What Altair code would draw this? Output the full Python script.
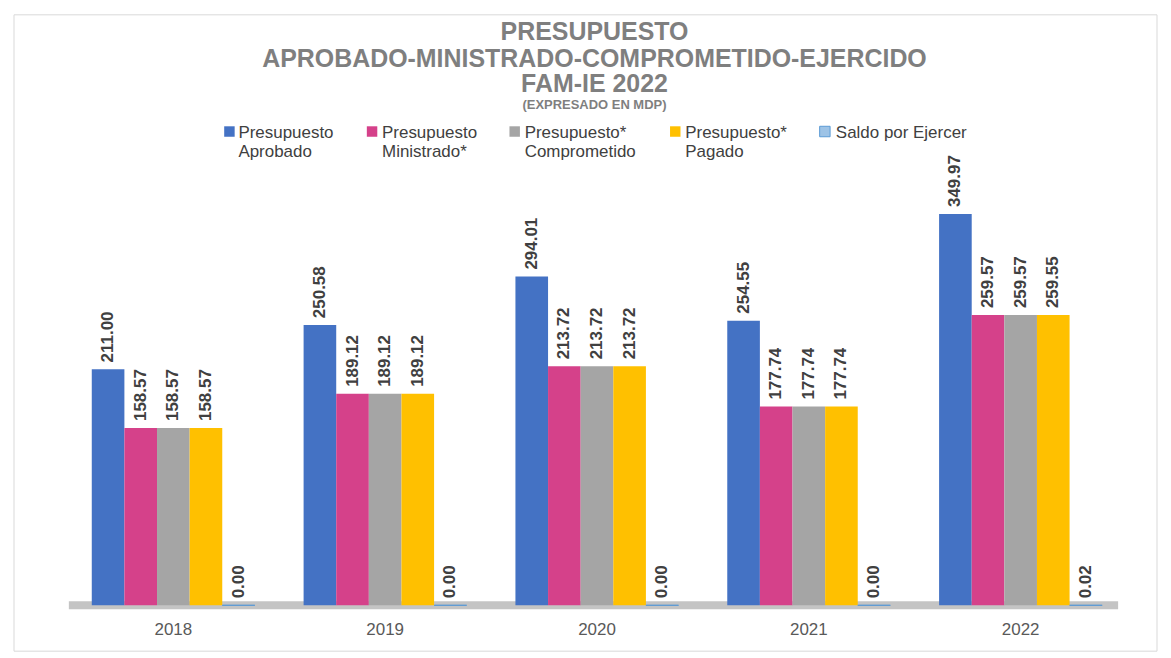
import altair as alt
import pandas as pd

years = ["2018", "2019", "2020", "2021", "2022"]
series = [
    "Presupuesto|Aprobado",
    "Presupuesto|Ministrado*",
    "Presupuesto*|Comprometido",
    "Presupuesto*|Pagado",
    "Saldo por Ejercer",
]
aprobado = [211.00, 250.58, 294.01, 254.55, 349.97]
ministrado = [158.57, 189.12, 213.72, 177.74, 259.57]
comprometido = [158.57, 189.12, 213.72, 177.74, 259.57]
pagado = [158.57, 189.12, 213.72, 177.74, 259.55]
saldo = [0.00, 0.00, 0.00, 0.00, 0.02]
colors = ["#4472C4", "#D5418A", "#A5A5A5", "#FFC000", "#9DC3E6"]

title_lines = ["PRESUPUESTO", "APROBADO-MINISTRADO-COMPROMETIDO-EJERCIDO", "FAM-IE 2022"]
subtitle = "(EXPRESADO EN MDP)"

rows = []
for i, yr in enumerate(years):
    for k, (s, vals) in enumerate(zip(series, [aprobado, ministrado, comprometido, pagado, saldo])):
        rows.append({"year": yr, "k": k, "value": vals[i]})
df = pd.DataFrame(rows)
one = pd.DataFrame({"i": [0]})

FONT = "Liberation Sans"
W, H = 1115, 426

x = alt.X(
    "year:N",
    scale=alt.Scale(paddingInner=0.23, paddingOuter=0.24, align=0.765),
    axis=alt.Axis(
        title=None, labelAngle=0, domain=False, ticks=False, grid=False,
        labelFontSize=17, labelColor="#595959", labelPadding=16, labelFont=FONT,
    ),
)
xo = alt.XOffset("k:O")
y = alt.Y("value:Q", scale=alt.Scale(domain=[0, 380]), axis=None)
color = alt.Color("k:O", scale=alt.Scale(range=colors), legend=None)

base = alt.Chart(df)

border = alt.Chart(one).mark_rect(fillOpacity=0, stroke="#D9D9D9", strokeWidth=1).encode(
    x=alt.value(0), x2=alt.value(1146), y=alt.value(-166), y2=alt.value(472)
)

floor = alt.Chart(one).mark_rect(color="#C4C4C4").encode(
    x=alt.value(55), x2=alt.value(1107), y=alt.value(H - 4), y2=alt.value(H + 4)
)

bars = base.mark_bar().encode(x=x, xOffset=xo, y=y, color=color)

saldo_bars = base.transform_filter(alt.datum.k == 4).mark_bar(
    color="#9DC3E6", stroke="#5B9BD5", strokeWidth=1
).encode(x=x, xOffset=xo, y=y, y2=alt.value(H + 6))

labels = base.mark_text(
    angle=270, align="left", baseline="middle", dx=7, fontSize=17,
    fontWeight="bold", color="#404040", font=FONT,
).encode(x=x, xOffset=xo, y=y, text=alt.Text("value:Q", format=".2f"))

layers = [border, floor, bars, saldo_bars, labels]

# title
title_y = [-149, -122, -97]
for line, ty in zip(title_lines, title_y):
    layers.append(
        alt.Chart(one).mark_text(
            text=line, fontSize=25, fontWeight="bold", color="#7F7F7F", font=FONT,
            align="center", baseline="middle",
        ).encode(x=alt.value(582), y=alt.value(ty))
    )
layers.append(
    alt.Chart(one).mark_text(
        text=subtitle, fontSize=13, fontWeight="bold", color="#7F7F7F", font=FONT,
        align="center", baseline="middle",
    ).encode(x=alt.value(582), y=alt.value(-76))
)

# legend
sym_x = [216, 359, 502, 663, 813]
txt_x = [225, 369, 512, 673, 824]
for k, (name, c) in enumerate(zip(series, colors)):
    if k == 4:
        sq = alt.Chart(one).mark_square(size=110, fill=c, stroke="#5B9BD5", strokeWidth=1, opacity=1)
    else:
        sq = alt.Chart(one).mark_square(size=110, color=c, opacity=1)
    layers.append(sq.encode(x=alt.value(sym_x[k]), y=alt.value(-49)))
    layers.append(
        alt.Chart(one).mark_text(
            text=name, lineBreak="|", lineHeight=20, fontSize=17, color="#404040",
            font=FONT, align="left", baseline="alphabetic",
        ).encode(x=alt.value(txt_x[k]), y=alt.value(-43))
    )

chart = (
    alt.layer(*layers)
    .properties(width=W, height=H)
    .configure_view(strokeWidth=0)
)

chart.save("out.html", embed_options={"renderer": "svg", "actions": False})
